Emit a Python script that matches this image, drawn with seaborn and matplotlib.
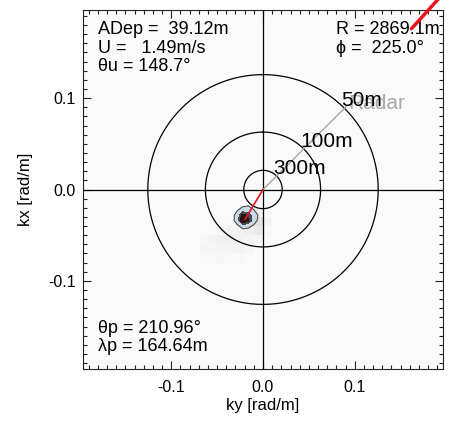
import numpy as np
import matplotlib
matplotlib.use("Agg")
import matplotlib.pyplot as plt
import seaborn as sns

# wavelength rings and labels
ring_wavelengths = [300, 100, 50]
ring_labels = ["300m", "100m", "50m"]

# tick values / labels
tick_values = [-0.1, 0.0, 0.1]
tick_labels = ["-0.1", "0.0", "0.1"]

# parameters shown in the corners
adep = 39.12
wind_speed = 1.49
wind_dir = 148.7
range_m = 2869.1
phi = 225.0
peak_dir = 210.96
peak_wavelength = 164.64

# faint background spectrum (coarse grid)
bg_ky = [-0.085, -0.075, -0.065, -0.055, -0.045, -0.035, -0.025, -0.015, -0.005, 0.005]
bg_kx = [-0.085, -0.075, -0.065, -0.055, -0.045, -0.035, -0.025, -0.015, -0.005]
bg_vals = [
    [0.00, 0.00, 0.00, 0.02, 0.02, 0.02, 0.00, 0.00, 0.00, 0.00],
    [0.00, 0.00, 0.03, 0.03, 0.04, 0.03, 0.03, 0.02, 0.00, 0.00],
    [0.00, 0.00, 0.04, 0.04, 0.05, 0.05, 0.05, 0.04, 0.02, 0.00],
    [0.00, 0.00, 0.03, 0.05, 0.06, 0.07, 0.06, 0.05, 0.04, 0.00],
    [0.00, 0.00, 0.00, 0.03, 0.04, 0.05, 0.06, 0.07, 0.08, 0.03],
    [0.00, 0.00, 0.00, 0.00, 0.00, 0.03, 0.05, 0.08, 0.10, 0.05],
    [0.00, 0.00, 0.00, 0.00, 0.00, 0.00, 0.00, 0.04, 0.06, 0.03],
    [0.00, 0.00, 0.00, 0.00, 0.00, 0.00, 0.00, 0.00, 0.03, 0.00],
    [0.00, 0.00, 0.00, 0.00, 0.00, 0.00, 0.00, 0.00, 0.00, 0.00],
]

# spectral peak (finer grid, normalised)
pk_ky = [-0.034, -0.028, -0.022, -0.016, -0.010, -0.004]
pk_kx = [-0.046, -0.040, -0.034, -0.028, -0.022, -0.016]
pk_vals = [
    [0.00, 0.02, 0.05, 0.04, 0.02, 0.00],
    [0.02, 0.10, 0.25, 0.22, 0.10, 0.02],
    [0.05, 0.30, 0.95, 0.70, 0.30, 0.05],
    [0.04, 0.28, 0.75, 0.55, 0.35, 0.08],
    [0.02, 0.12, 0.25, 0.30, 0.15, 0.03],
    [0.00, 0.03, 0.06, 0.08, 0.04, 0.00],
]

# red segment leaving the plot top-right (ky, kx)
red_out_ky = [0.162, 0.200]
red_out_kx = [0.176, 0.218]

sns.set_theme(style="ticks")
plt.rcParams['font.family'] = ['Liberation Sans', 'DejaVu Sans']
plt.rcParams['axes.unicode_minus'] = False
plt.rcParams['text.color'] = 'black'
plt.rcParams['axes.labelcolor'] = 'black'
plt.rcParams['xtick.labelcolor'] = 'black'
plt.rcParams['ytick.labelcolor'] = 'black'

lim = 2 * np.pi / 32
fig = plt.figure(figsize=(4.5, 4.22), dpi=100)
ax = fig.add_axes([83 / 450, 1 - 369 / 422, 360 / 450, 359 / 422])
ax.set_facecolor('#fafafa')

# background spectrum
bg = np.ma.masked_less_equal(np.array(bg_vals), 0)
ax.pcolormesh(bg_ky, bg_kx, bg, cmap='Greys', vmin=0, vmax=0.5, shading='nearest', zorder=1)

# peak contours
ax.contourf(pk_ky, pk_kx, pk_vals, levels=[0.15, 0.45, 2], colors=['#c9d9e6', '#4a4a55'], zorder=2)
ax.contourf(pk_ky, pk_kx, pk_vals, levels=[0.65, 2], colors=['#2a1414'], zorder=2)
ax.contour(pk_ky, pk_kx, pk_vals, levels=[0.15], colors='#505050', linewidths=0.8, zorder=2)

# cross lines
ax.axhline(0, color='black', lw=0.9, zorder=3)
ax.axvline(0, color='black', lw=0.9, zorder=3)

# wavenumber rings
t = np.linspace(0, 2 * np.pi, 361)
for wl, lab in zip(ring_wavelengths, ring_labels):
    k = 2 * np.pi / wl
    ax.plot(k * np.sin(t), k * np.cos(t), color='black', lw=0.9, zorder=3)
    c = k * np.cos(np.pi / 4)
    ax.text(c - 0.004, c - 0.002, lab, fontsize=15, ha='left', va='bottom', zorder=5)

# radar direction
rr = 0.131
ax.plot([0, rr * np.cos(np.pi / 4)], [0, rr * np.sin(np.pi / 4)], color='#a8a8a8', lw=1, zorder=4)
ax.text(rr * np.cos(np.pi / 4), rr * np.sin(np.pi / 4) + 0.001, 'Radar', color='#a8a8a8',
        fontsize=15, ha='left', va='center', zorder=4)

# peak direction
kp = 2 * np.pi / peak_wavelength
th = np.deg2rad(peak_dir)
ax.plot([0, kp * np.sin(th)], [0, kp * np.cos(th)], color='#e8141c', lw=1.2, zorder=4)
ax.plot(red_out_ky, red_out_kx, color='#e8141c', lw=2.5, clip_on=False, zorder=6)

# corner annotations
fs = 13
ax.text(0.042, 0.932, f"ADep =  {adep:.2f}m", transform=ax.transAxes, fontsize=fs)
ax.text(0.042, 0.881, f"U =   {wind_speed:.2f}m/s", transform=ax.transAxes, fontsize=fs)
ax.text(0.042, 0.830, f"θu = {wind_dir:.1f}°", transform=ax.transAxes, fontsize=fs)
ax.text(0.703, 0.932, f"R = {range_m:.1f}m", transform=ax.transAxes, fontsize=fs)
ax.text(0.703, 0.881, f"ϕ =  {phi:.1f}°", transform=ax.transAxes, fontsize=fs)
ax.text(0.042, 0.100, f"θp = {peak_dir:.2f}°", transform=ax.transAxes, fontsize=fs)
ax.text(0.042, 0.050, f"λp = {peak_wavelength:.2f}m", transform=ax.transAxes, fontsize=fs)

ax.set_xlim(-lim, lim)
ax.set_ylim(-lim, lim)
ax.set_xticks(tick_values)
ax.set_xticklabels(tick_labels)
ax.set_yticks(tick_values)
ax.set_yticklabels(tick_labels)
ax.set_xticks(np.arange(-0.19, 0.195, 0.01), minor=True)
ax.set_yticks(np.arange(-0.19, 0.195, 0.01), minor=True)
ax.tick_params(which='both', direction='in', top=True, right=True, color='#222222', width=0.8)
ax.tick_params(which='major', length=6, labelsize=11.5)
ax.tick_params(which='minor', length=3)
ax.tick_params(axis='x', which='major', pad=8)
ax.tick_params(axis='y', which='major', pad=5)
for s in ax.spines.values():
    s.set_linewidth(0.8)
    s.set_color('#222222')
ax.set_xlabel('ky [rad/m]', fontsize=12, labelpad=2)
ax.set_ylabel('kx [rad/m]', fontsize=12, labelpad=11)

fig.savefig('out.png', dpi=100, facecolor='white')
